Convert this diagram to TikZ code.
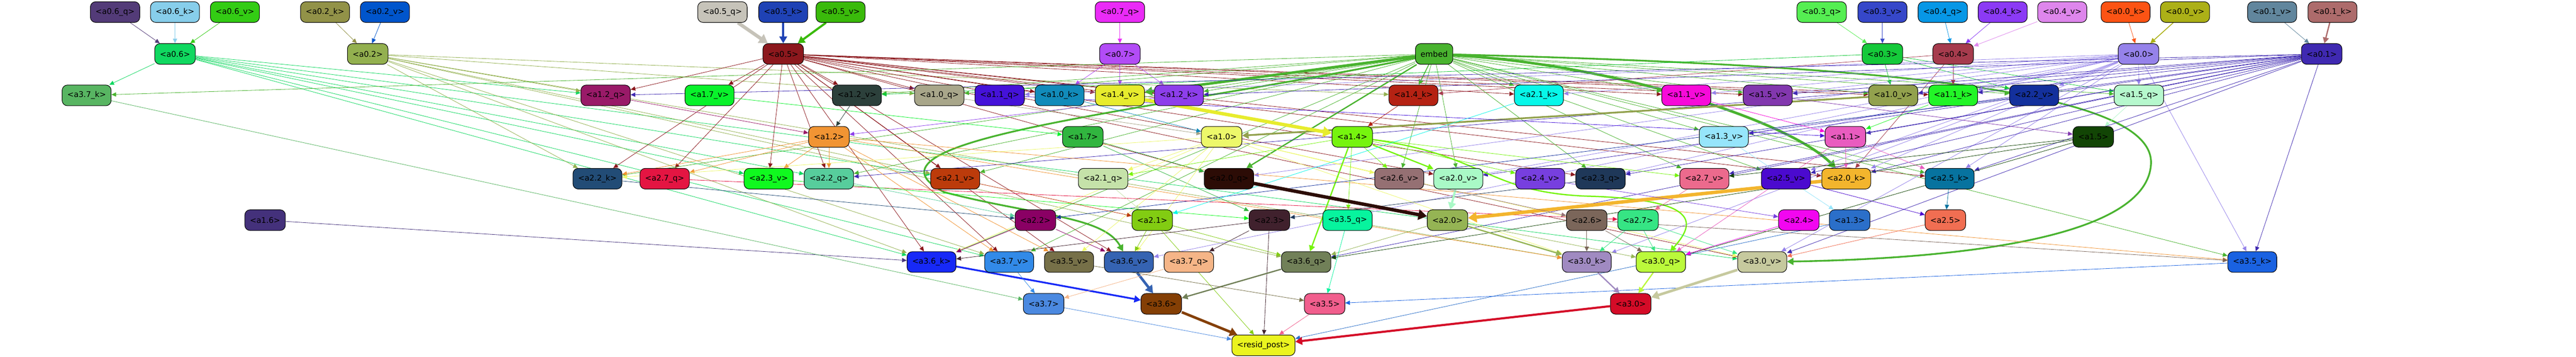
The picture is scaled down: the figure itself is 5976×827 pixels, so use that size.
\documentclass[tikz,border=0pt]{standalone}
\usepackage{fontspec}
\setmainfont{DejaVu Sans}
\usepackage{xcolor}
\usepackage{tikz}
\usetikzlibrary{arrows.meta}

\definecolor{a06q}{HTML}{533B78}
\definecolor{a06k}{HTML}{87CEEB}
\definecolor{a06v}{HTML}{33CC14}
\definecolor{a02k}{HTML}{929248}
\definecolor{a02v}{HTML}{0055CC}
\definecolor{a05q}{HTML}{C6C3B9}
\definecolor{a05k}{HTML}{1F42B5}
\definecolor{a05v}{HTML}{3ABA0B}
\definecolor{a07q}{HTML}{EA2BF7}
\definecolor{a03q}{HTML}{55EE52}
\definecolor{a03v}{HTML}{3647C9}
\definecolor{a04q}{HTML}{0797E6}
\definecolor{a04k}{HTML}{8B3AF5}
\definecolor{a04v}{HTML}{DE86EC}
\definecolor{a00k}{HTML}{FC5314}
\definecolor{a00v}{HTML}{ACB017}
\definecolor{a01v}{HTML}{61869D}
\definecolor{a01k}{HTML}{AD6B6B}
\definecolor{a06}{HTML}{10D860}
\definecolor{a02}{HTML}{93B04F}
\definecolor{a05}{HTML}{8C181D}
\definecolor{a07}{HTML}{B24CF6}
\definecolor{embed}{HTML}{49B32F}
\definecolor{a03}{HTML}{15C93A}
\definecolor{a04}{HTML}{A63B4D}
\definecolor{a00}{HTML}{9582EA}
\definecolor{a01}{HTML}{3F29B1}
\definecolor{a37k}{HTML}{58B562}
\definecolor{a12q}{HTML}{991A68}
\definecolor{a17v}{HTML}{09F22B}
\definecolor{a12v}{HTML}{2C403B}
\definecolor{a10q}{HTML}{A8A68A}
\definecolor{a11q}{HTML}{4512D9}
\definecolor{a10k}{HTML}{118BBA}
\definecolor{a14v}{HTML}{E7EC2D}
\definecolor{a12k}{HTML}{8D3EEB}
\definecolor{a14k}{HTML}{B52213}
\definecolor{a21k}{HTML}{07F7E9}
\definecolor{a11v}{HTML}{F70AD9}
\definecolor{a15v}{HTML}{8237AE}
\definecolor{a10v}{HTML}{92A14D}
\definecolor{a11k}{HTML}{22F527}
\definecolor{a22v}{HTML}{13309C}
\definecolor{a15q}{HTML}{B6F8CD}
\definecolor{a12}{HTML}{F19433}
\definecolor{a17}{HTML}{31B53F}
\definecolor{a10}{HTML}{EDF86A}
\definecolor{a14}{HTML}{76F40E}
\definecolor{a13v}{HTML}{96E5FB}
\definecolor{a11}{HTML}{E95CBF}
\definecolor{a15}{HTML}{124505}
\definecolor{a22k}{HTML}{224C76}
\definecolor{a27q}{HTML}{E41542}
\definecolor{a23v}{HTML}{10F91F}
\definecolor{a22q}{HTML}{57CD9C}
\definecolor{a21v}{HTML}{BC3B0B}
\definecolor{a21q}{HTML}{C5E2A9}
\definecolor{a20q}{HTML}{2C0C06}
\definecolor{a26v}{HTML}{957073}
\definecolor{a20v}{HTML}{A9F9C6}
\definecolor{a24v}{HTML}{773FDF}
\definecolor{a23q}{HTML}{1F3859}
\definecolor{a27v}{HTML}{EC6A8D}
\definecolor{a25v}{HTML}{4B0ACF}
\definecolor{a20k}{HTML}{F3B52D}
\definecolor{a25k}{HTML}{07739F}
\definecolor{a16}{HTML}{44317B}
\definecolor{a22}{HTML}{8A0064}
\definecolor{a21}{HTML}{82CC12}
\definecolor{a23}{HTML}{40212D}
\definecolor{a35q}{HTML}{07F49E}
\definecolor{a20}{HTML}{95B454}
\definecolor{a26}{HTML}{7B665A}
\definecolor{a27}{HTML}{36E584}
\definecolor{a24}{HTML}{F206F0}
\definecolor{a13}{HTML}{2B6FC9}
\definecolor{a25}{HTML}{F16E52}
\definecolor{a36k}{HTML}{1729F7}
\definecolor{a37v}{HTML}{328AE8}
\definecolor{a35v}{HTML}{767048}
\definecolor{a36v}{HTML}{3563B2}
\definecolor{a37q}{HTML}{F5B587}
\definecolor{a36q}{HTML}{718058}
\definecolor{a30k}{HTML}{A08AC1}
\definecolor{a30q}{HTML}{BBF93B}
\definecolor{a30v}{HTML}{C6C99E}
\definecolor{a35k}{HTML}{1A62E1}
\definecolor{a37}{HTML}{4B89E0}
\definecolor{a36}{HTML}{843F05}
\definecolor{a35}{HTML}{F15E8D}
\definecolor{a30}{HTML}{D40B27}
\definecolor{resid}{HTML}{EBF41F}

\pgfdeclarelayer{bg}
\pgfsetlayers{bg,main}

\begin{document}
\begin{tikzpicture}[x=0.02cm, y=-0.02cm,
  >={Triangle[length=5.5pt 1.3, width=4.5pt 2]},
  hd/.style={draw=black, line width=0.7pt, rounded corners=7pt, minimum height=0.96cm,
    inner xsep=6.8pt, inner ysep=0pt, font=\fontsize{10.3}{12}\selectfont},
  e/.style={->, line width=0.55pt},
  w2/.style={line width=1.1pt}, w3/.style={line width=1.7pt}, w4/.style={line width=2.3pt},
  w5/.style={line width=2.8pt}, w6/.style={line width=3.4pt}, w8/.style={line width=4.5pt}]
\useasboundingbox (0,0) rectangle (5976,827);

\node[hd, fill=a06q] (a06q) at (267,28) {<a0.6\_q>};
\node[hd, fill=a06k] (a06k) at (406,28) {<a0.6\_k>};
\node[hd, fill=a06v] (a06v) at (545,28) {<a0.6\_v>};
\node[hd, fill=a02k] (a02k) at (754,28) {<a0.2\_k>};
\node[hd, fill=a02v] (a02v) at (893,28) {<a0.2\_v>};
\node[hd, fill=a05q] (a05q) at (1676,28) {<a0.5\_q>};
\node[hd, fill=a05k] (a05k) at (1817,28) {<a0.5\_k>};
\node[hd, fill=a05v] (a05v) at (1950,28) {<a0.5\_v>};
\node[hd, fill=a07q] (a07q) at (2598,28) {<a0.7\_q>};
\node[hd, fill=a03q] (a03q) at (4226,28) {<a0.3\_q>};
\node[hd, fill=a03v] (a03v) at (4367,28) {<a0.3\_v>};
\node[hd, fill=a04q] (a04q) at (4507,28) {<a0.4\_q>};
\node[hd, fill=a04k] (a04k) at (4646,28) {<a0.4\_k>};
\node[hd, fill=a04v] (a04v) at (4784,28) {<a0.4\_v>};
\node[hd, fill=a00k] (a00k) at (4931,28) {<a0.0\_k>};
\node[hd, fill=a00v] (a00v) at (5069,28) {<a0.0\_v>};
\node[hd, fill=a01v] (a01v) at (5271,28) {<a0.1\_v>};
\node[hd, fill=a01k] (a01k) at (5411,28) {<a0.1\_k>};

\node[hd, fill=a06] (a06) at (406,125) {<a0.6>};
\node[hd, fill=a02] (a02) at (853,125) {<a0.2>};
\node[hd, fill=a05] (a05) at (1817,125) {<a0.5>};
\node[hd, fill=a07] (a07) at (2598,125) {<a0.7>};
\node[hd, fill=embed] (embed) at (3327,125) {embed};
\node[hd, fill=a03] (a03) at (4367,125) {<a0.3>};
\node[hd, fill=a04] (a04) at (4531,125) {<a0.4>};
\node[hd, fill=a00] (a00) at (4961,125) {<a0.0>};
\node[hd, fill=a01] (a01) at (5386,125) {<a0.1>};

\node[hd, fill=a37k] (a37k) at (201,221) {<a3.7\_k>};
\node[hd, fill=a12q] (a12q) at (1405,221) {<a1.2\_q>};
\node[hd, fill=a17v] (a17v) at (1646,221) {<a1.7\_v>};
\node[hd, fill=a12v] (a12v) at (1988,221) {<a1.2\_v>};
\node[hd, fill=a10q] (a10q) at (2179,221) {<a1.0\_q>};
\node[hd, fill=a11q] (a11q) at (2319,221) {<a1.1\_q>};
\node[hd, fill=a10k] (a10k) at (2458,221) {<a1.0\_k>};
\node[hd, fill=a14v] (a14v) at (2598,221) {<a1.4\_v>};
\node[hd, fill=a12k] (a12k) at (2735,221) {<a1.2\_k>};
\node[hd, fill=a14k] (a14k) at (3279,221) {<a1.4\_k>};
\node[hd, fill=a21k] (a21k) at (3570,221) {<a2.1\_k>};
\node[hd, fill=a11v] (a11v) at (3912,221) {<a1.1\_v>};
\node[hd, fill=a15v] (a15v) at (4101,221) {<a1.5\_v>};
\node[hd, fill=a10v] (a10v) at (4392,221) {<a1.0\_v>};
\node[hd, fill=a11k] (a11k) at (4531,221) {<a1.1\_k>};
\node[hd, fill=a22v] (a22v) at (4719,221) {<a2.2\_v>};
\node[hd, fill=a15q] (a15q) at (4962,221) {<a1.5\_q>};

\node[hd, fill=a12] (a12) at (1923,317) {<a1.2>};
\node[hd, fill=a17] (a17) at (2512,317) {<a1.7>};
\node[hd, fill=a10] (a10) at (2834,317) {<a1.0>};
\node[hd, fill=a14] (a14) at (3137,317) {<a1.4>};
\node[hd, fill=a13v] (a13v) at (3999,317) {<a1.3\_v>};
\node[hd, fill=a11] (a11) at (4281,317) {<a1.1>};
\node[hd, fill=a15] (a15) at (4856,317) {<a1.5>};

\node[hd, fill=a22k] (a22k) at (1386,414) {<a2.2\_k>};
\node[hd, fill=a27q] (a27q) at (1542,414) {<a2.7\_q>};
\node[hd, fill=a23v] (a23v) at (1783,414) {<a2.3\_v>};
\node[hd, fill=a22q] (a22q) at (1923,414) {<a2.2\_q>};
\node[hd, fill=a21v] (a21v) at (2216,414) {<a2.1\_v>};
\node[hd, fill=a21q] (a21q) at (2559,414) {<a2.1\_q>};
\node[hd, fill=a20q] (a20q) at (2851,414) {<a2.0\_q>};
\node[hd, fill=a26v] (a26v) at (3246,414) {<a2.6\_v>};
\node[hd, fill=a20v] (a20v) at (3383,414) {<a2.0\_v>};
\node[hd, fill=a24v] (a24v) at (3573,414) {<a2.4\_v>};
\node[hd, fill=a23q] (a23q) at (3713,414) {<a2.3\_q>};
\node[hd, fill=a27v] (a27v) at (3954,414) {<a2.7\_v>};
\node[hd, fill=a25v] (a25v) at (4143,414) {<a2.5\_v>};
\node[hd, fill=a20k] (a20k) at (4283,414) {<a2.0\_k>};
\node[hd, fill=a25k] (a25k) at (4523,414) {<a2.5\_k>};

\node[hd, fill=a16] (a16) at (615,510) {<a1.6>};
\node[hd, fill=a22] (a22) at (2402,510) {<a2.2>};
\node[hd, fill=a21] (a21) at (2673,510) {<a2.1>};
\node[hd, fill=a23] (a23) at (2945,510) {<a2.3>};
\node[hd, fill=a35q] (a35q) at (3126,510) {<a3.5\_q>};
\node[hd, fill=a20] (a20) at (3358,510) {<a2.0>};
\node[hd, fill=a26] (a26) at (3681,510) {<a2.6>};
\node[hd, fill=a27] (a27) at (3800,510) {<a2.7>};
\node[hd, fill=a24] (a24) at (4173,510) {<a2.4>};
\node[hd, fill=a13] (a13) at (4291,510) {<a1.3>};
\node[hd, fill=a25] (a25) at (4513,510) {<a2.5>};

\node[hd, fill=a36k] (a36k) at (2161,607) {<a3.6\_k>};
\node[hd, fill=a37v] (a37v) at (2341,607) {<a3.7\_v>};
\node[hd, fill=a35v] (a35v) at (2480,607) {<a3.5\_v>};
\node[hd, fill=a36v] (a36v) at (2619,607) {<a3.6\_v>};
\node[hd, fill=a37q] (a37q) at (2758,607) {<a3.7\_q>};
\node[hd, fill=a36q] (a36q) at (3030,607) {<a3.6\_q>};
\node[hd, fill=a30k] (a30k) at (3681,607) {<a3.0\_k>};
\node[hd, fill=a30q] (a30q) at (3853,607) {<a3.0\_q>};
\node[hd, fill=a30v] (a30v) at (4088,607) {<a3.0\_v>};
\node[hd, fill=a35k] (a35k) at (5225,607) {<a3.5\_k>};

\node[hd, fill=a37] (a37) at (2421,704) {<a3.7>};
\node[hd, fill=a36] (a36) at (2694,704) {<a3.6>};
\node[hd, fill=a35] (a35) at (3073,704) {<a3.5>};
\node[hd, fill=a30] (a30) at (3783,704) {<a3.0>};

\node[hd, fill=resid] (resid) at (2931,800) {<resid\_post>};

\begin{pgfonlayer}{bg}
\fill[white] (0,0) rectangle (5976,827);

\draw[e, a06q] (a06q) -- (a06);
\draw[e, a06k] (a06k) -- (a06);
\draw[e, a06v] (a06v) -- (a06);
\draw[e, a02k] (a02k) -- (a02);
\draw[e, a02v] (a02v) -- (a02);
\draw[e, a05q, w8] (a05q) -- (a05);
\draw[e, a05k, w5] (a05k) -- (a05);
\draw[e, a05v, w5] (a05v) -- (a05);
\draw[e, a07q] (a07q) -- (a07);
\draw[e, a03q] (a03q) -- (a03);
\draw[e, a03v] (a03v) -- (a03);
\draw[e, a04q] (a04q) -- (a04);
\draw[e, a04k] (a04k) -- (a04);
\draw[e, a04v] (a04v) -- (a04);
\draw[e, a00k] (a00k) -- (a00);
\draw[e, a00v, w2] (a00v) -- (a00);
\draw[e, a01v] (a01v) -- (a01);
\draw[e, a01k, w3] (a01k) -- (a01);

\draw[e, a06] (a06) edge (a37k) edge (a12q) edge (a36k) edge (a37v) edge (a22q) edge (a30v) edge (a21v) edge (a23v);
\draw[e, a02] (a02) edge (a12q) edge (a14k) edge (a22k) edge (a21v) edge (a36k) edge (a37v) edge (a36q) edge (a30k) edge (a10q);
\draw[e, a05] (a05) edge (a12q) edge (a17v) edge (a12v) edge (a10q) edge (a10k) edge (a14v) edge (a12k) edge (a21k) edge (a11v)
  edge (a10v) edge (a11k) edge (a15v) edge (a22k) edge (a27q) edge (a23v) edge (a22q) edge (a21v) edge (a20q) edge (a20v)
  edge (a23q) edge (a20k) edge (a25k) edge (a36k) edge (a37v) edge (a35v) edge (a36v) edge (a30v);
\draw[e, a07] (a07) edge (a10k) edge (a14v) edge (a12k);
\draw[e, embed] (embed) edge[w2] (a14k) edge[w6] (a14v) edge[w3] (a20q) edge (a21k) edge (a11v) edge (a13v) edge (a26v)
  edge (a20v) edge (a23q) edge (a10v) edge (a22v) edge (a15q) edge (a37k) edge (a12v) edge (a12k) edge (a25v) edge (a25k)
  edge (a35k) edge (a21v) edge (a36k) edge (a37v) edge (a15v) edge (a22k) edge (a22q) edge (a27v) edge (a10q);
\draw[e, embed, w4] (embed) .. controls (2700,255) and (1950,320) .. (2190,445) .. controls (2400,500) and (2560,500) .. (a36v);
\draw[e, embed, w6] (embed) .. controls (3750,150) and (4150,280) .. (a20k);
\draw[e, embed, w4] (embed) .. controls (4300,150) and (5000,200) .. (4990,380) .. controls (4980,560) and (4500,600) .. (a30v);
\draw[e, a03] (a03) edge (a10v) edge (a15q) edge (a22v) edge (a12v);
\draw[e, a04] (a04) edge (a11k) edge (a20k) edge (a14k);
\draw[e, a00] (a00) edge (a15q) edge (a11k) edge (a22v) edge (a21k) edge (a11v) edge (a23q) edge (a20v) edge (a20k) edge (a25k)
  edge (a30v) edge (a30k) edge (a20q) edge (a36v) edge (a11q) edge (a35k) edge (a15v) edge (a25v);
\draw[e, a01] (a01) edge (a12k) edge (a15v) edge (a10v) edge (a20v) edge (a23q) edge (a11) edge (a20k) edge (a12q) edge (a22q)
  edge (a30v) edge (a35k) edge (a13v) edge (a25v) edge (a27v) edge (a36q) edge (a25k) edge (a11k);

\draw[e, a12q] (a12q) -- (a12);
\draw[e, a12v] (a12v) -- (a12);
\draw[e, a12k] (a12k) -- (a12);
\draw[e, a17v] (a17v) -- (a17);
\draw[e, a10q] (a10q) -- (a10);
\draw[e, a10k] (a10k) -- (a10);
\draw[e, a10v, w4] (a10v) -- (a10);
\draw[e, a11q] (a11q) -- (a11);
\draw[e, a11k] (a11k) -- (a11);
\draw[e, a11v] (a11v) -- (a11);
\draw[e, a14v, w8] (a14v) -- (a14);
\draw[e, a14k] (a14k) -- (a14);
\draw[e, a13v] (a13v) -- (a13);
\draw[e, a15v] (a15v) -- (a15);
\draw[e, a15q] (a15q) -- (a15);

\draw[e, a12] (a12) edge (a22k) edge (a27q) edge (a23v) edge (a22q) edge (a35v) edge (a30k) edge (a35k) edge (a37v);
\draw[e, a17] (a17) edge (a20q) edge (a23);
\draw[e, a10] (a10) edge (a21q) edge (a22k) edge (a36k) edge (a35v) edge (a36v) edge (a26v) edge (a30k) edge (a30v);
\draw[e, a14] (a14) edge (a26v) edge[w3] (a20v) edge (a24v) edge (a27v) edge[w3] (a36q) edge (a35q) edge (a21q);
\draw[e, a14, w3] (a14) .. controls (3450,360) and (3450,450) .. (3700,455) .. controls (3950,465) and (3930,520) .. (a30q);
\draw[e, a11] (a11) edge (a20k) edge (a25k) edge (a30q);
\draw[e, a15] (a15) edge (a27v) edge (a30q) edge (a36q);
\draw[e, a16] (a16) -- (a36k);
\draw[e, a13] (a13) -- (resid);

\draw[e, a22k] (a22k) -- (a22);
\draw[e, a22q] (a22q) -- (a22);
\draw[e, a22v] (a22v) -- (a22);
\draw[e, a27q] (a27q) -- (a27);
\draw[e, a27v] (a27v) -- (a27);
\draw[e, a23v] (a23v) -- (a23);
\draw[e, a23q] (a23q) -- (a23);
\draw[e, a21v] (a21v) -- (a21);
\draw[e, a21q] (a21q) -- (a21);
\draw[e, a21k] (a21k) -- (a21);
\draw[e, a20q, w8] (a20q) -- (a20);
\draw[e, a20v, w5] (a20v) -- (a20);
\draw[e, a20k, w8] (a20k) -- (a20);
\draw[e, a26v] (a26v) -- (a26);
\draw[e, a24v] (a24v) -- (a24);
\draw[e, a25v] (a25v) -- (a25);
\draw[e, a25k] (a25k) -- (a25);

\draw[e, a22] (a22) edge (a36k) edge (a36v);
\draw[e, a21] (a21) edge (a36v) edge (a36q) edge (resid);
\draw[e, a23] (a23) edge (a36k) edge (a37q) edge (resid);
\draw[e, a20] (a20) edge[w3] (a30k) edge (a30q) edge (a36q);
\draw[e, a26] (a26) edge (a30k) edge (a30q) edge (a35k);
\draw[e, a27] (a27) edge (a30k) edge (a30q) edge (a30v);
\draw[e, a24] (a24) -- (a30q);
\draw[e, a25] (a25) -- (a30v);

\draw[e, a36k, w4] (a36k) -- (a36);
\draw[e, a36v, w6] (a36v) -- (a36);
\draw[e, a36q, w3] (a36q) -- (a36);
\draw[e, a37v] (a37v) -- (a37);
\draw[e, a37q] (a37q) -- (a37);
\draw[e, a37k] (a37k) -- (a37);
\draw[e, a35q] (a35q) -- (a35);
\draw[e, a35v] (a35v) -- (a35);
\draw[e, a35k] (a35k) -- (a35);
\draw[e, a30k, w3] (a30k) -- (a30);
\draw[e, a30q, w3] (a30q) -- (a30);
\draw[e, a30v, w6] (a30v) -- (a30);
\draw[e, a36, w6] (a36) -- (resid);
\draw[e, a30, w5] (a30) -- (resid);
\draw[e, a37] (a37) -- (resid);
\draw[e, a35] (a35) -- (resid);
\end{pgfonlayer}
\end{tikzpicture}
\end{document}
